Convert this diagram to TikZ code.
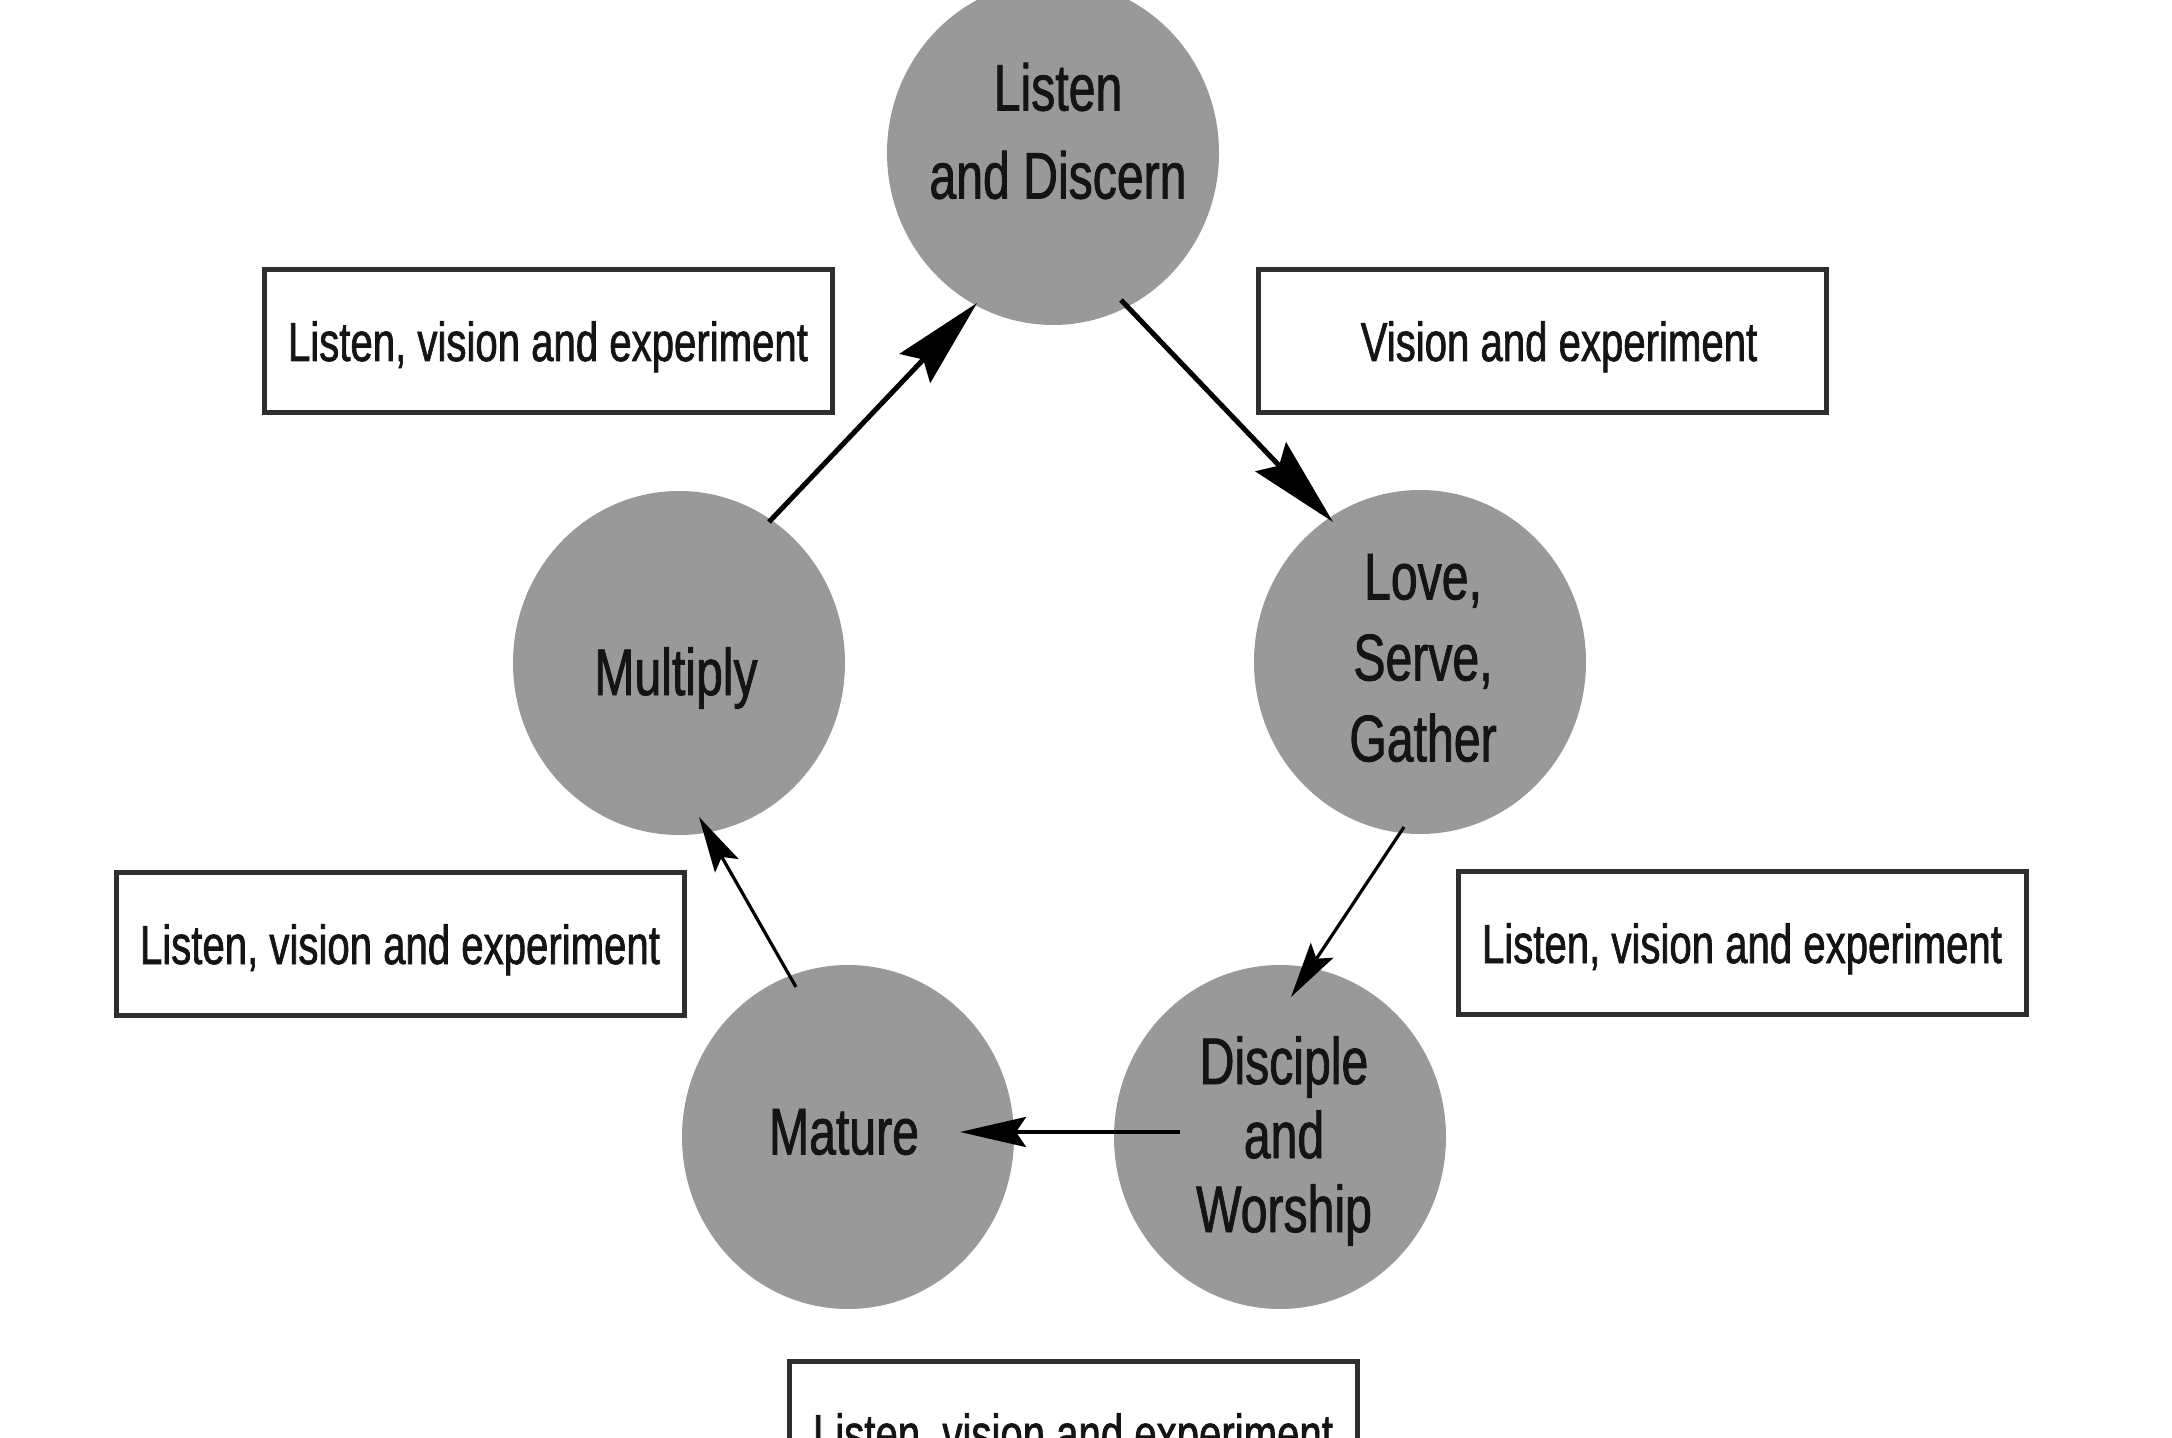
\documentclass[tikz,border=0pt]{standalone}
\usepackage{fontspec}
\setmainfont{Liberation Sans}[FakeStretch=0.73,FakeBold=1.2]
\usetikzlibrary{arrows.meta,shapes.geometric}
\definecolor{circgray}{HTML}{999999}
\definecolor{boxline}{HTML}{2E2E2E}
\definecolor{ink}{HTML}{141414}
\begin{document}
\begin{tikzpicture}[x=0.5pt,y=-0.5pt,
  stage/.style={ellipse, fill=circgray, draw=none, minimum width=166pt, minimum height=172pt, inner sep=0pt},
  stagetext/.style={text=ink, align=center, inner sep=0pt},
  note/.style={rectangle, draw=boxline, line width=2.5pt, fill=white, minimum width=284pt, minimum height=71.5pt, inner sep=0pt, text=ink, text height=20pt, text depth=0pt, font=\fontsize{27.5}{33}\selectfont},
  arrA/.style={line width=2.5pt, -{Stealth[length=45pt,width=21pt,inset=6pt]}},
  arrB/.style={line width=2pt, -{Stealth[length=33pt,width=15pt,inset=5pt]}},
  arrC/.style={line width=1.6pt, -{Stealth[length=28pt,width=13.5pt,inset=5pt]}}
]
\useasboundingbox (0,0) rectangle (2172,1438);
\clip (0,0) rectangle (2172,1438);
\fill[white] (0,0) rectangle (2172,1438);

% stages
\node[stage] (L) at (1053,153) {};
\node[stage] (M) at (679,663) {};
\node[stage] (G) at (1420,662) {};
\node[stage] (T) at (848,1137) {};
\node[stage] (D) at (1280,1137) {};

\node[stagetext, font=\fontsize{33}{44}\selectfont] (Lt) at (1058,131) {Listen\\and Discern};
\node[stagetext, font=\fontsize{33}{40}\selectfont] (Mt) at (676,678) {Multiply};
\node[stagetext, font=\fontsize{33}{40.5}\selectfont] (Gt) at (1423,658) {Love,\\Serve,\\Gather};
\node[stagetext, font=\fontsize{33}{37}\selectfont] (Tt) at (844,1132) {Mature};
\node[stagetext, font=\fontsize{33}{37}\selectfont] (Dt) at (1284,1141) {Disciple\\and\\Worship};

% notes
\node[note] (B1) at (548,341) {Listen, vision and experiment};
\node[note] (B2) at (1542,341) {\hspace*{17pt}Vision and experiment};
\node[note] (B3) at (1742,943) {Listen, vision and experiment};
\node[note] (B4) at (400,944) {Listen, vision and experiment};
\node[note] (B5) at (1073,1433) {Listen, vision and experiment};

% connectors
\draw[arrA] ([shift={(90,-141)}]M.center) -- ([shift={(-76,150)}]L.center);
\draw[arrA] ([shift={(68,147)}]L.center) -- ([shift={(-87,-140)}]G.center);
\draw[arrC] ([shift={(-16,165)}]G.center) -- ([shift={(11,-140)}]D.center);
\draw[arrB] ([shift={(-100,-5)}]D.center) -- ([shift={(112,-5)}]T.center);
\draw[arrC] ([shift={(-52,-150)}]T.center) -- ([shift={(20,154)}]M.center);
\end{tikzpicture}
\end{document}
